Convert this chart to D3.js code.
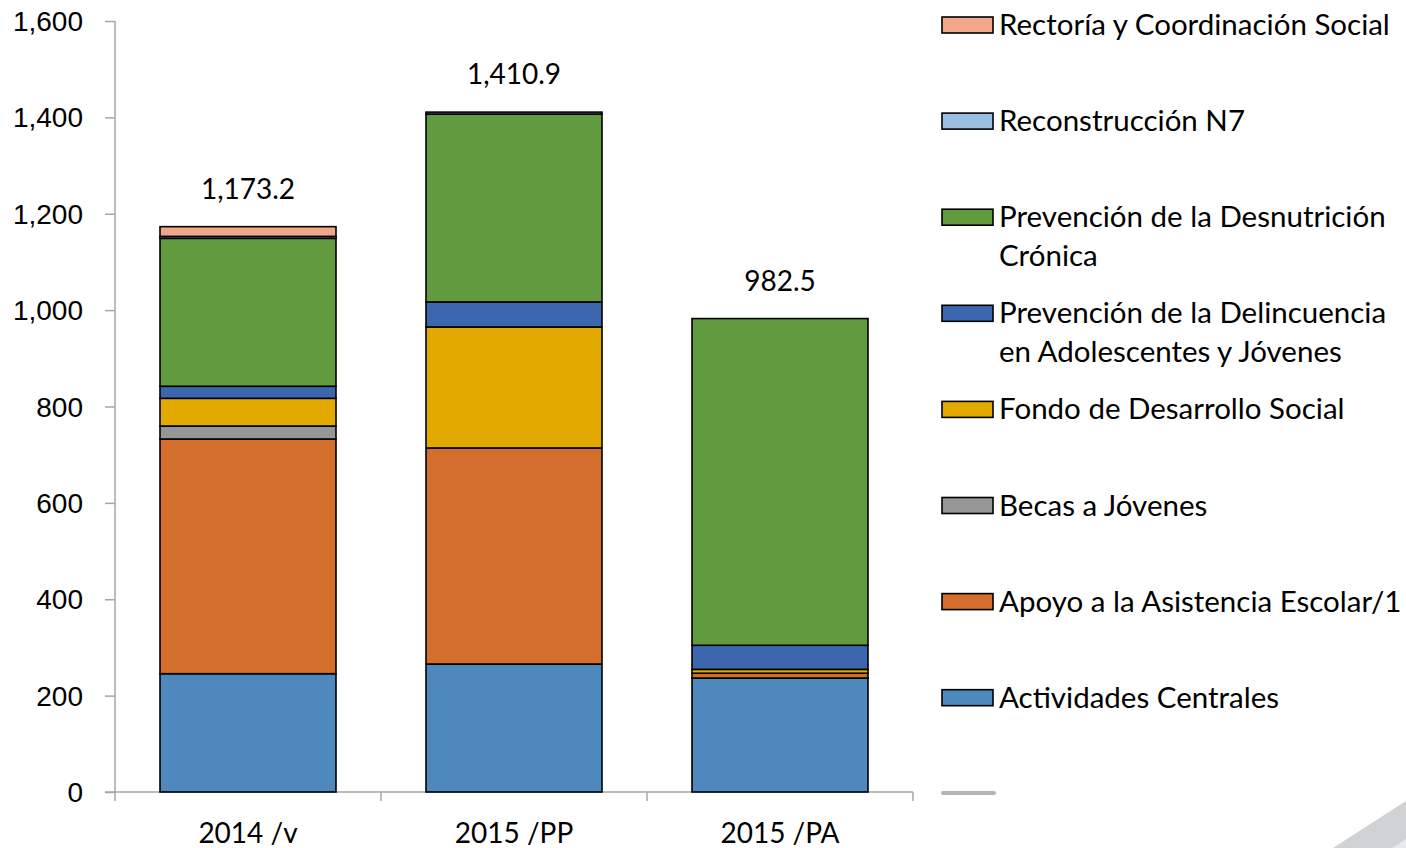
<!DOCTYPE html>
<html>
<head>
<meta charset="utf-8">
<script src="https://cdn.jsdelivr.net/npm/d3@7"></script>
<style>
  body { margin: 0; background: #fff; }
  svg { display: block; font-family: Lato, "Open Sans", sans-serif; }
</style>
</head>
<body>
<script>
// categorias y series
var categories = ["2014 /v", "2015 /PP", "2015 /PA"];
var seriesNames = ["Actividades Centrales", "Apoyo a la Asistencia Escolar/1", "Becas a Jóvenes",
    "Fondo de Desarrollo Social", "Prevención de la Delincuencia en Adolescentes y Jóvenes",
    "Prevención de la Desnutrición Crónica", "Reconstrucción N7", "Rectoría y Coordinación Social"];
var actividades = [245.5, 265.6, 236.5];
var apoyo = [487, 448.4, 10];
var becas = [27, 0, 0];
var fondo = [57.5, 251, 8];
var delincuencia = [25, 52, 50];
var desnutricion = [307, 390, 678];
var reconstruccion = [4, 3.9, 0];
var rectoria = [20.2, 0, 0];
var totals = ["1,173.2", "1,410.9", "982.5"];
var yTicks = [0, 200, 400, 600, 800, 1000, 1200, 1400, 1600];

var colors = ["#4f88bc", "#d46e2c", "#969696", "#e2aa00", "#3c66ae", "#629b3f", "#9cc0e4", "#f1a78a"];

var allSeries = [actividades, apoyo, becas, fondo, delincuencia, desnutricion, reconstruccion, rectoria];
var rows = categories.map(function (c, i) {
    var r = { cat: c };
    seriesNames.forEach(function (s, j) { r[s] = allSeries[j][i]; });
    return r;
});

var W = 1406, H = 848, FS = 28;
var svg = d3.select("body").append("svg").attr("width", W).attr("height", H);

// fondo decorativo abajo a la derecha
svg.append("polygon").attr("points", "1333,848 1406,801 1406,848").attr("fill", "#d1d2d4");
svg.append("polygon").attr("points", "1392,848 1406,839 1406,848").attr("fill", "#e8e9ea");

var x = d3.scaleBand().domain(categories).range([115, 913]).paddingInner(0.3384).paddingOuter(0.1692);
var y = d3.scaleLinear().domain([0, 1600]).range([792, 21]);

var stack = d3.stack().keys(seriesNames);
var layers = stack(rows);

// eje y
var yAxis = svg.append("g").attr("transform", "translate(115,0)")
    .call(d3.axisLeft(y).tickValues(yTicks).tickSize(10).tickPadding(22)
        .tickFormat(d3.format(",")));
yAxis.select(".domain").attr("stroke", "#a6a6a6").attr("stroke-width", 1.5).attr("d", "M0,21V792");
yAxis.selectAll(".tick line").attr("stroke", "#a6a6a6").attr("stroke-width", 1.5);
yAxis.selectAll(".tick text").attr("font-size", FS).attr("fill", "#000").attr("dy", "0.34em");

// eje x
var xAxisG = svg.append("g").attr("transform", "translate(0,792)");
xAxisG.append("line").attr("x1", 105).attr("x2", 913).attr("stroke", "#a6a6a6").attr("stroke-width", 1.5);
var edges = [115].concat(categories.map(function (c) { return x(c) + x.bandwidth() + x.step() * x.paddingInner() / 2; }));
xAxisG.selectAll(".xt").data(edges).enter().append("line")
    .attr("x1", function (d) { return d; }).attr("x2", function (d) { return d; })
    .attr("y1", 0).attr("y2", 9).attr("stroke", "#a6a6a6").attr("stroke-width", 1.5);
xAxisG.selectAll(".xl").data(categories).enter().append("text")
    .attr("x", function (d) { return x(d) + x.bandwidth() / 2; })
    .attr("y", 51).attr("text-anchor", "middle").attr("font-size", FS)
    .text(function (d) { return d; });

// barras apiladas
svg.selectAll(".layer").data(layers).enter().append("g")
    .attr("fill", function (d, i) { return colors[i]; })
    .selectAll("rect").data(function (d) { return d; }).enter()
    .filter(function (d) { return d[1] - d[0] > 0; })
    .append("rect")
    .attr("x", function (d) { return x(d.data.cat); })
    .attr("y", function (d) { return y(d[1]); })
    .attr("width", x.bandwidth())
    .attr("height", function (d) { return y(d[0]) - y(d[1]); })
    .attr("stroke", "#000").attr("stroke-width", 1.6);

// totales
var topLayer = layers[layers.length - 1];
svg.selectAll(".tot").data(categories).enter().append("text")
    .attr("x", function (d) { return x(d) + x.bandwidth() / 2; })
    .attr("y", function (d, i) { return y(topLayer[i][1]) - 28; })
    .attr("text-anchor", "middle").attr("font-size", FS)
    .text(function (d, i) { return totals[i]; });

// leyenda
var legendLines = [
    ["Rectoría y Coordinación Social"],
    ["Reconstrucción N7"],
    ["Prevención de la Desnutrición", "Crónica"],
    ["Prevención de la Delincuencia", "en Adolescentes y Jóvenes"],
    ["Fondo de Desarrollo Social"],
    ["Becas a Jóvenes"],
    ["Apoyo a la Asistencia Escolar/1"],
    ["Actividades Centrales"]
];
var legend = svg.append("g");
legendLines.forEach(function (lines, i) {
    var cy = 25 + i * 96.1;
    var ci = colors.length - 1 - i;
    legend.append("rect").attr("x", 942).attr("y", cy - 8).attr("width", 51).attr("height", 16)
        .attr("fill", colors[ci]).attr("stroke", "#000").attr("stroke-width", 1.6);
    lines.forEach(function (t, k) {
        legend.append("text").attr("x", 999).attr("y", cy + 10 + k * 39)
            .attr("font-size", 29.5).text(t);
    });
});
legend.append("line").attr("x1", 943).attr("x2", 994).attr("y1", 793).attr("y2", 793)
    .attr("stroke", "#b4b4b4").attr("stroke-width", 4).attr("stroke-linecap", "round");
</script>
</body>
</html>
